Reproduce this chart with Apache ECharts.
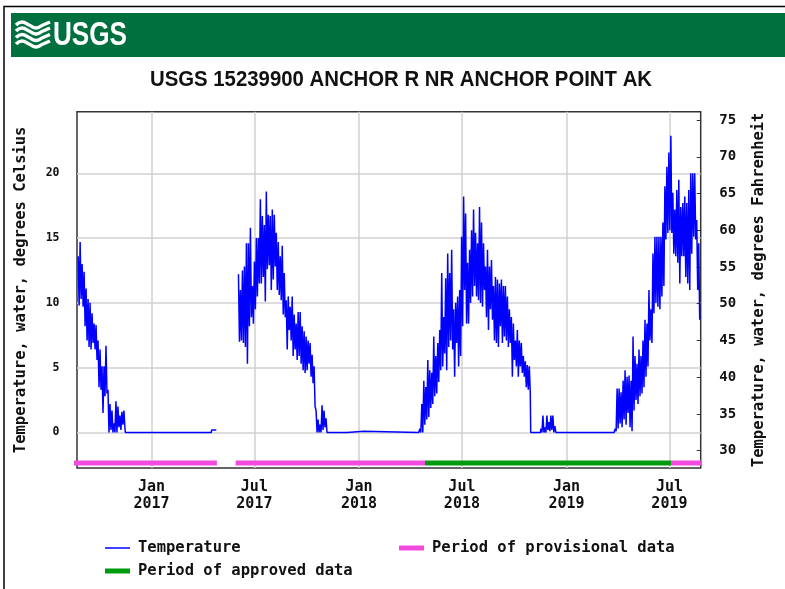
<!DOCTYPE html>
<html><head><meta charset="utf-8">
<script src="https://cdn.jsdelivr.net/npm/echarts@6/dist/echarts.min.js"></script>
<style>html,body{margin:0;padding:0;background:#fff}#c{width:785px;height:589px}</style>
</head><body><div id="c"></div>
<script>
// ---------- chart values ----------
const titleText = 'USGS 15239900 ANCHOR R NR ANCHOR POINT AK';
const xRange = ['2016-08-23', '2019-08-25'];
const xTickDates = ['2017-01-01','2017-07-01','2018-01-01','2018-07-01','2019-01-01','2019-07-01'];
const xTickLabels = ['Jan\n2017','Jul\n2017','Jan\n2018','Jul\n2018','Jan\n2019','Jul\n2019'];
const celsiusTicks = [0, 5, 10, 15, 20];
const fahrenheitTicks = [30, 35, 40, 45, 50, 55, 60, 65, 70, 75];
const celsiusRange = [-2.74, 24.75];
const fahrenheitRange = [27.65, 76.13];

// water temperature (deg C): daily high / low readings every 3.5 days
const sampleStepDays = 3.5;
const seg1Start = '2016-08-25';
const seg1High = [13.6,14.7,13.0,12.4,11.1,10.3,10.0,9.2,8.4,8.3,7.1,6.4,5.1,5.1,6.7,3.3,2.2,1.7,0.7,2.4,2.0,1.3,1.6,1.7];
const seg1Low  = [9.8,10.3,9.7,8.2,7.1,6.6,6.4,6.9,6.4,5.6,3.5,3.3,1.5,2.8,3.0,0,0.2,0,0,0,0.4,0.2,0.6,0.4];
const winter1 = [['2016-11-16',0],['2017-04-16',0],['2017-04-17',0.2],['2017-04-25',0.2],['2017-05-10',null]];
const seg2Start = '2017-06-03';
const seg2High = [12.2,11.0,12.5,12.8,14.6,14.6,15.8,11.3,13.2,15.0,15.0,18.0,16.7,16.0,18.6,16.8,16.7,17.2,16.8,15.4,14.7,13.6,14.4,12.3,10.2,10.5,9.7,10.5,9.1,8.4,9.3,9.3,8.2,7.8,7.4,7.1,6.9,6.0,5.1,1.7,1.0,0.6,2.1,1.7,1.1];
const seg2Low  = [7.0,7.1,6.9,6.6,5.3,8.2,8.9,8.4,9.5,10.5,11.5,11.5,12.0,10.1,12.6,12.9,11.0,11.8,12.8,11.0,10.6,10.2,9.1,8.9,6.4,7.9,7.1,5.9,6.4,5.6,5.9,5.3,4.8,4.6,4.8,5.3,4.3,3.8,2.0,0,0,0,0.2,0.4,0];
const winter2 = [['2017-11-07',0],['2017-12-11',0],['2017-12-12',0.1],['2018-01-10',0.1],['2018-01-11',0],['2018-04-16',0]];
const seg3Start = '2018-04-18';
const seg3High = [0.3,2.2,4.0,3.5,5.6,4.8,4.6,7.4,5.9,6.9,7.9,12.3,8.9,11.9,13.8,12.3,14.1,9.5,10.0,10.5,11.0,15.1,18.2,16.9,13.1,14.1,15.6,17.2,15.4,14.6,17.4,16.2,14.6,12.8,14.1,12.8,13.3,11.3,12.0,11.8,11.5,11.8,11.3,11.3,10.5,9.5,8.9,8.4,7.1,7.9,7.1,6.9,5.9,5.5,5.2,5.1];
const seg3Low  = [0,0,0.6,1.0,1.2,1.9,2.2,2.8,3.0,3.9,4.8,5.1,6.1,4.8,6.6,7.1,6.4,4.3,6.9,5.1,5.9,8.2,11.0,8.4,8.4,10.0,10.5,11.3,10.5,10.2,10.0,9.7,11.0,8.9,7.9,9.5,8.7,7.1,6.9,6.6,8.2,6.9,7.4,7.1,6.6,6.9,4.3,5.6,5.1,4.3,5.1,4.6,4.3,3.5,3.3,3.1];
const fall3 = [['2018-10-30',0],['2018-11-16',0]];
const seg3bStart = '2018-11-17';
const seg3bHigh = [0.3,1.3,0.4,1.3,0.8,1.3,1.3,0.5];
const seg3bLow  = [0,0,0,0.2,0.1,0.2,0,0];
const winter3 = [['2018-12-14',0],['2019-03-22',0]];
const seg4Start = '2019-03-24';
const seg4High = [0.1,0.3,3.4,3.4,3.1,4.0,4.8,4.3,4.4,4.0,7.4,5.9,5.3,6.4,5.9,7.1,8.7,8.4,11.0,9.5,13.8,15.1,15.1,15.1,15.1,16.2,19.0,20.5,21.6,22.9,18.5,17.2,18.7,19.5,17.4,17.7,18.2,17.7,18.7,20.0,20.0,20.0,16.4,14.6];
const seg4Low  = [0,0.1,0.3,0.7,0.4,1.0,0.6,1.5,0.4,0.1,1.7,2.5,2.2,2.8,3.0,3.5,4.3,5.1,7.1,6.9,9.2,10.0,9.7,9.5,10.5,11.3,14.9,15.4,15.6,15.4,13.8,13.6,13.1,11.5,13.6,13.6,12.0,11.5,11.0,13.8,15.1,14.9,11.0,8.7];

// data-quality periods
const provisionalPeriods = [['2016-08-16','2017-04-26'],['2017-05-29','2018-04-27'],['2019-07-04','2019-08-27']];
const approvedPeriods = [['2018-04-27','2019-07-04']];
const periodBarLevel = -2.35;

// ---------- build ----------
const DAY = 86400000;
function t(s){ const [y,m,d] = s.split('-').map(Number); return new Date(y, m-1, d).getTime(); }
function zig(start, hi, lo){
  const out = []; const s = t(start);
  for (let i = 0; i < hi.length; i++){
    out.push([s + i*sampleStepDays*DAY, hi[i]]);
    out.push([s + (i + 0.5)*sampleStepDays*DAY, lo[i]]);
  }
  return out;
}
function pts(list){ return list.map(p => [t(p[0]), p[1]]); }
const tempData = [].concat(
  zig(seg1Start, seg1High, seg1Low), pts(winter1),
  zig(seg2Start, seg2High, seg2Low), pts(winter2),
  zig(seg3Start, seg3High, seg3Low), pts(fall3),
  zig(seg3bStart, seg3bHigh, seg3bLow), pts(winter3),
  zig(seg4Start, seg4High, seg4Low)
);
function periodData(periods){
  const out = [];
  periods.forEach(p => { out.push([t(p[0]), periodBarLevel], [t(p[1]), periodBarLevel], [t(p[1]) + DAY/2, null]); });
  return out;
}
const xTickValues = xTickDates.map(t);
const xLabelMap = {}; xTickValues.forEach((v,i) => xLabelMap[v] = xTickLabels[i]);

const MONO = '"DejaVu Sans Mono", monospace';
const txt = (size) => ({ fontFamily: MONO, fontWeight: 'bold', fontSize: size, color: '#111' });

const chart = echarts.init(document.getElementById('c'), null, {renderer: 'canvas'});
chart.setOption({
  animation: false,
  backgroundColor: '#fff',
  graphic: [
    { type: 'rect', shape: {x: 4, y: 6.5, width: 900, height: 700}, style: {fill: 'none', stroke: '#000', lineWidth: 1.5}, z: 0 },
    { type: 'rect', shape: {x: 11, y: 13, width: 800, height: 44}, style: {fill: '#00703f'}, z: 1 },
    { type: 'polyline', shape: {points: [[16,25],[22,22],[29,25],[36,28],[43,25],[50,22]], smooth: 0.5}, style: {stroke: '#fff', lineWidth: 3.5, fill: 'none'}, z: 2 },
    { type: 'polyline', shape: {points: [[16,31],[22,28],[29,31],[36,34],[43,31],[50,28]], smooth: 0.5}, style: {stroke: '#fff', lineWidth: 3.5, fill: 'none'}, z: 2 },
    { type: 'polyline', shape: {points: [[16,37.5],[22,34.5],[29,37.5],[36,40.5],[43,37.5],[50,34.5]], smooth: 0.5}, style: {stroke: '#fff', lineWidth: 3.5, fill: 'none'}, z: 2 },
    { type: 'polyline', shape: {points: [[16,44],[22,41],[29,44],[36,47],[43,44],[50,41]], smooth: 0.5}, style: {stroke: '#fff', lineWidth: 3.5, fill: 'none'}, z: 2 },
    { type: 'text', x: 53, y: 36, scaleX: 0.78, style: {text: 'USGS', font: 'bold 33.5px "Liberation Sans", Arial, sans-serif', fill: '#fff', textAlign: 'left', textVerticalAlign: 'middle'}, z: 2 },
    { type: 'text', x: 401, y: 80, scaleX: 0.925, style: {text: titleText, font: 'bold 22px "Liberation Sans", Arial, sans-serif', fill: '#111', textAlign: 'center', textVerticalAlign: 'middle'}, z: 2 }
  ],
  grid: { left: 77, right: 84.3, top: 111.7, bottom: 121, show: true, borderColor: '#333', borderWidth: 1.5, backgroundColor: 'transparent' },
  xAxis: {
    type: 'value', min: t(xRange[0]), max: t(xRange[1]),
    axisLine: {show: false},
    axisTick: {show: false, customValues: xTickValues},
    axisLabel: Object.assign(txt(15), {customValues: xTickValues, formatter: v => xLabelMap[v] || '', margin: 10, lineHeight: 17.5, align: 'center'}),
    splitLine: {show: true, lineStyle: {color: '#d0d0d0', width: 1.5}}
  },
  yAxis: [
    {
      type: 'value', position: 'left', min: celsiusRange[0], max: celsiusRange[1],
      name: 'Temperature, water, degrees Celsius', nameLocation: 'middle', nameGap: 48, nameRotate: 90,
      nameTextStyle: txt(15.5),
      axisLine: {show: false},
      axisTick: {show: false, customValues: celsiusTicks},
      axisLabel: Object.assign(txt(11.5), {customValues: celsiusTicks, margin: 17.5}),
      splitLine: {show: true, lineStyle: {color: '#d0d0d0', width: 1.5}}
    },
    {
      type: 'value', position: 'right', min: fahrenheitRange[0], max: fahrenheitRange[1],
      name: 'Temperature, water, degrees Fahrenheit', nameLocation: 'middle', nameGap: 50, nameRotate: 90,
      nameTextStyle: txt(15.5),
      axisLine: {show: false},
      axisTick: {show: true, inside: true, length: 4, customValues: fahrenheitTicks, lineStyle: {color: '#333', width: 1}},
      axisLabel: Object.assign(txt(14), {customValues: fahrenheitTicks, margin: 18.6}),
      splitLine: {show: false}
    }
  ],
  legend: [
    { data: ['Temperature'], left: 105, top: 539, padding: 0, icon: 'rect', itemWidth: 25, itemHeight: 1.5,
      itemStyle: {borderWidth: 0}, textStyle: Object.assign(txt(15.5), {lineHeight: 18, padding: [0,0,0,3]}) },
    { data: ['Period of provisional data'], left: 399, top: 539, padding: 0, icon: 'rect', itemWidth: 25, itemHeight: 5,
      itemStyle: {borderWidth: 0}, textStyle: Object.assign(txt(15.5), {lineHeight: 18, padding: [0,0,0,3]}) },
    { data: ['Period of approved data'], left: 105, top: 562, padding: 0, icon: 'rect', itemWidth: 25, itemHeight: 5,
      itemStyle: {borderWidth: 0}, textStyle: Object.assign(txt(15.5), {lineHeight: 18, padding: [0,0,0,3]}) }
  ],
  series: [
    { name: 'Temperature', type: 'line', data: tempData, yAxisIndex: 0, symbol: 'none', showSymbol: false,
      connectNulls: false, color: '#0000ff', lineStyle: {color: '#0000ff', width: 1.5}, z: 4 },
    { name: 'Period of provisional data', type: 'line', data: periodData(provisionalPeriods), yAxisIndex: 0, symbol: 'none',
      clip: false, connectNulls: false, color: '#f24be0', lineStyle: {color: '#f24be0', width: 5, cap: 'butt'}, z: 3 },
    { name: 'Period of approved data', type: 'line', data: periodData(approvedPeriods), yAxisIndex: 0, symbol: 'none',
      clip: false, connectNulls: false, color: '#009a10', lineStyle: {color: '#009a10', width: 5, cap: 'butt'}, z: 3 }
  ]
});
</script></body></html>
